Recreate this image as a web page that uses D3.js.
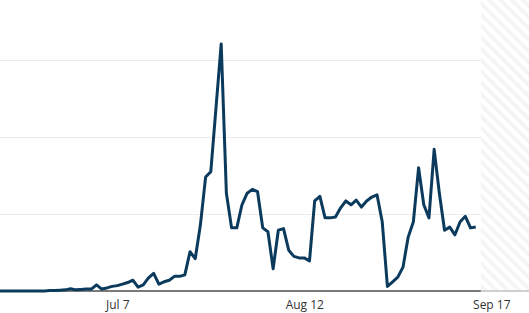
<!DOCTYPE html>
<html>
<head>
<meta charset="utf-8">
<script src="https://cdn.jsdelivr.net/npm/d3@7"></script>
<style>
  body { margin: 0; background: #fff; }
  .line { fill: none; stroke: #0c3a5d; stroke-width: 3px; stroke-linejoin: round; }
  .grid line { stroke: #ebebeb; stroke-width: 1px; }
  .axis text { font-family: "Open Sans", "Noto Sans", sans-serif; font-size: 12px; fill: #333; }
</style>
</head>
<body>
<script>
// first day of the series, one value per day after that
var startDate = "2021-06-14";
var values = [
  0, 0, 0, 0, 0, 0, 0, 0, 0, 0,
  0.5, 0.5, 1, 1.5, 3, 1.5, 2, 2.5, 2.5, 8, 2.5, 4, 6,
  7, 9, 11, 14, 5, 8, 17, 23, 9, 12, 14, 19, 19, 21,
  51, 42, 86, 148, 155, 238, 321, 127, 82, 82, 112, 127, 132, 129, 82, 77,
  29, 79, 81, 53, 45, 43, 43, 39, 117, 123, 95, 95, 96, 108, 117, 112,
  118, 109, 117, 122, 125, 90, 6, 12, 18, 31, 70, 90, 160, 112, 95, 184,
  127, 79, 83, 73, 90, 97, 82, 83
];
var tickDates = ["2021-07-07", "2021-08-12", "2021-09-17"];
var tickLabels = ["Jul 7", "Aug 12", "Sep 17"];
var gridValues = [100, 200, 300];
var hatchFrom = "2021-09-15";

var width = 529, height = 313;
var parse = d3.timeParse("%Y-%m-%d");
var t0 = parse(startDate);
var data = values.map(function(v, i) {
  return { date: d3.timeDay.offset(t0, i), value: v };
});

// scales
var x = d3.scaleTime()
  .domain([parse("2021-07-07"), parse("2021-08-12")])
  .range([117.3, 304.3]);
var y = d3.scaleLinear().domain([0, 378]).range([291, 0]);

var svg = d3.select("body").append("svg")
  .attr("width", width).attr("height", height);

// hatch pattern for the future part
var pat = svg.append("defs").append("pattern")
  .attr("id", "hatch")
  .attr("patternUnits", "userSpaceOnUse")
  .attr("width", 8).attr("height", 8)
  .attr("patternTransform", "rotate(-45)");
pat.append("rect").attr("width", 8).attr("height", 8).attr("fill", "#fff");
pat.append("rect").attr("width", 3.5).attr("height", 8).attr("fill", "#f4f4f4");

var hx = x(parse(hatchFrom));
svg.append("rect")
  .attr("x", hx).attr("y", 0)
  .attr("width", width - hx).attr("height", y(0))
  .attr("fill", "url(#hatch)");

// gridlines
svg.append("g").attr("class", "grid")
  .selectAll("line").data(gridValues).enter().append("line")
  .attr("x1", 0).attr("x2", hx)
  .attr("y1", function(d) { return Math.round(y(d)) + 0.5; })
  .attr("y2", function(d) { return Math.round(y(d)) + 0.5; });

// baseline
svg.append("line")
  .attr("x1", 0).attr("x2", hx).attr("y1", y(0)).attr("y2", y(0))
  .attr("stroke", "#7a7a7a").attr("stroke-width", 2);
svg.append("line")
  .attr("x1", hx).attr("x2", width).attr("y1", y(0)).attr("y2", y(0))
  .attr("stroke", "#cfcfcf").attr("stroke-width", 2);

// x axis
var axis = d3.axisBottom(x)
  .tickValues(tickDates.map(parse))
  .tickSize(0)
  .tickPadding(9)
  .tickFormat(function(d, i) { return tickLabels[i]; });
svg.append("g").attr("class", "axis")
  .attr("transform", "translate(0," + y(0) + ")")
  .call(axis)
  .call(function(g) { g.select(".domain").remove(); });

// the line
var valueline = d3.line()
  .x(function(d) { return x(d.date); })
  .y(function(d) { return y(d.value); });
svg.append("path").datum(data).attr("class", "line").attr("d", valueline);
</script>
</body>
</html>
